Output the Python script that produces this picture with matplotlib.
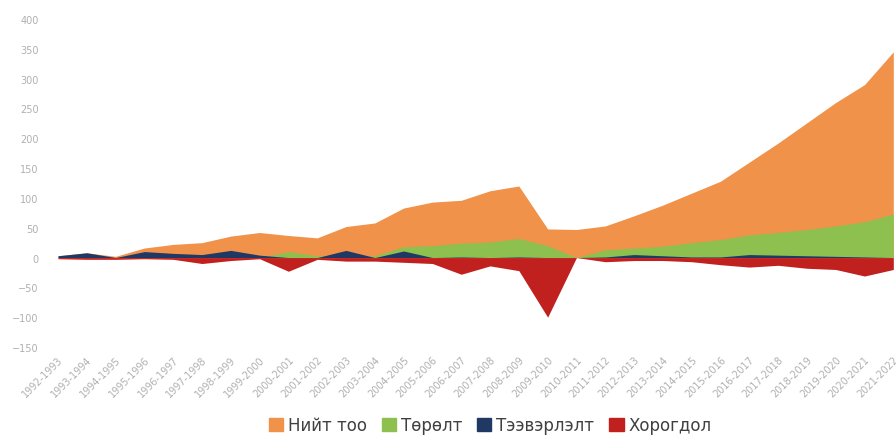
import matplotlib.pyplot as plt
import numpy as np
from matplotlib.patches import Patch

years = ["1992-1993", "1993-1994", "1994-1995", "1995-1996", "1996-1997",
         "1997-1998", "1998-1999", "1999-2000", "2000-2001", "2001-2002",
         "2002-2003", "2003-2004", "2004-2005", "2005-2006", "2006-2007",
         "2007-2008", "2008-2009", "2009-2010", "2010-2011", "2011-2012",
         "2012-2013", "2013-2014", "2014-2015", "2015-2016", "2016-2017",
         "2017-2018", "2018-2019", "2019-2020", "2020-2021", "2021-2022"]

niit = [3, 8, 2, 16, 22, 25, 36, 42, 37, 33,
        52, 58, 83, 93, 96, 112, 120, 48, 47, 53,
        70, 88, 108, 128, 160, 192, 226, 260, 290, 345]
torolt = [0, 0, 0, 0, 0, 0, 0, 0, 10, 3,
          2, 3, 18, 20, 24, 26, 32, 20, 0, 13,
          16, 19, 25, 30, 38, 42, 47, 53, 60, 73]
teever = [3, 8, 0, 10, 7, 5, 12, 4, 0, 0,
          12, 0, 11, 0, 1, 0, 1, 0, 0, 1,
          5, 3, 1, 1, 5, 4, 3, 2, 1, 0]
horogdol = [-2, -3, -3, -2, -3, -10, -5, -2, -23, -3,
            -6, -6, -8, -10, -28, -14, -22, -100, 0, -7,
            -5, -5, -7, -12, -16, -13, -18, -20, -31, -20]

series_names = ['Нийт тоо', 'Төрөлт', 'Тээвэрлэлт', 'Хорогдол']

x = np.arange(len(years))

fig = plt.figure(figsize=(8.96, 4.39), dpi=100)
ax = fig.add_axes([0.0647, 0.2073, 0.9323, 0.7471])

colors = ['#F0924A', '#8DC04E', '#1F3864', '#C0201E']
# plain overlapping areas, total at the back, losses in front
for vals, c in zip([niit, torolt, teever, horogdol], colors):
    ax.fill_between(x, 0, vals, color=c, linewidth=0)

ax.set_xlim(0, len(years) - 1)
ax.set_ylim(-150, 400)
ax.set_yticks(np.arange(-150, 401, 50))
ax.set_xticks(x)
ax.set_xticklabels(years, rotation=45, ha='right', rotation_mode='anchor')
ax.tick_params(axis='both', length=0, labelsize=7, colors='#b0b0b0')
ax.tick_params(axis='y', pad=14)
ax.tick_params(axis='x', pad=5)
for s in ax.spines.values():
    s.set_visible(False)

handles = [Patch(color=c) for c in colors]
fig.legend(handles, series_names, loc='lower center', bbox_to_anchor=(0.547, -0.025),
           ncol=4, frameon=False, fontsize=12, handlelength=0.85, handleheight=0.85,
           handletextpad=0.3, columnspacing=0.9, labelcolor='#404040')

fig.savefig('out.png', dpi=100)
